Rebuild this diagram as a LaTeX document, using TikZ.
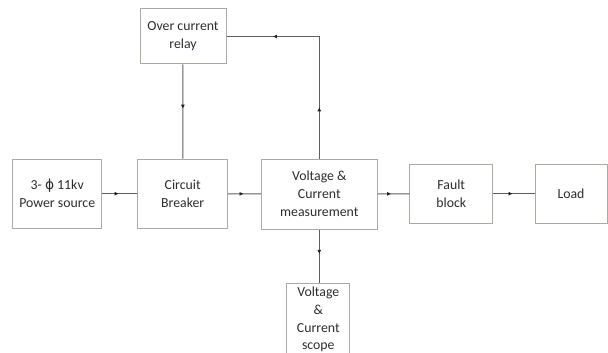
\documentclass[tikz,border=0pt]{standalone}
\usepackage{fontspec}
\setmainfont{Carlito}
\newfontfamily\dejavu{DejaVu Sans}
\usetikzlibrary{arrows.meta,decorations.markings}
\definecolor{boxline}{RGB}{170,172,160}
\definecolor{wire}{RGB}{95,95,95}
\definecolor{tipcol}{RGB}{30,30,30}
\definecolor{txt}{RGB}{45,45,45}
\tikzset{
  blk/.style={draw=boxline, line width=1pt, rectangle, inner sep=0pt, align=center,
    text=txt, font=\fontsize{13.8}{18.2}\selectfont},
  midarrow/.style={postaction={decorate}, decoration={markings,
    mark=at position #1 with {\arrow[tipcol]{Latex[length=4pt,width=4pt]}}}},
  wirestyle/.style={draw=wire, line width=1pt}
}
\begin{document}
\begin{tikzpicture}[x=1pt,y=-1pt]
\clip (0,0) rectangle (608,353);
\fill[white] (0,0) rectangle (608,353);
\node[blk, minimum width=89pt, minimum height=69.3pt] (src) at (57.2,193.7) {3- {\dejavu ϕ} 11kv\\Power source};
\node[blk, minimum width=90pt, minimum height=69.3pt] (cb) at (182.7,193.7) {Circuit\\Breaker};
\node[blk, minimum width=116pt, minimum height=70pt] (meas) at (319.3,194) {Voltage \&\\Current\\measurement};
\node[blk, minimum width=82.7pt, minimum height=59.3pt] (fault) at (451.3,193.7) {Fault\\block};
\node[blk, minimum width=72pt, minimum height=59.3pt] (load) at (571,193.7) {Load};
\node[blk, minimum width=86pt, minimum height=55pt] (relay) at (183,36.5) {Over current\\relay};
\node[blk, minimum width=63.3pt, minimum height=73pt, font=\fontsize{13.8}{17.8}\selectfont] (scope) at (318.3,319.5) {Voltage\\\&\\Current\\scope};

\draw[wirestyle, midarrow=0.47] (src) -- (cb);
\draw[wirestyle, midarrow=0.47] (cb) -- (meas);
\draw[wirestyle, midarrow=0.42] (meas) -- (fault);
\draw[wirestyle, midarrow=0.47] (fault) -- (load);
\draw[wirestyle, midarrow=0.47] (relay) -- (cb);
\draw[wirestyle, midarrow=0.46] (meas.south) -- (meas.south |- scope.north);
\coordinate (corner) at (meas.north |- relay.east);
\draw[wirestyle, midarrow=0.42] (meas.north) -- (corner);
\draw[wirestyle, midarrow=0.5] (corner) -- (relay.east);
\end{tikzpicture}
\end{document}
